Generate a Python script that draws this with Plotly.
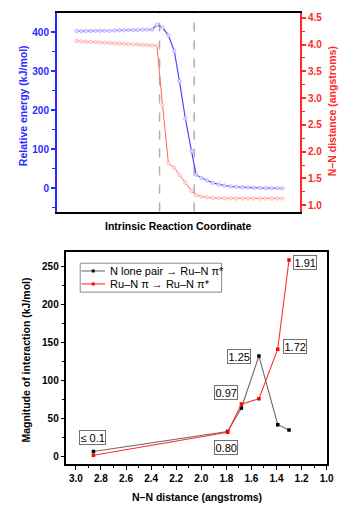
import plotly.graph_objects as go

# ---------------- data: top panel (IRC scan) ----------------
irc = [20, 24.8, 29.6, 34.4, 39.3, 44.1, 48.9, 53.7, 58.5, 63.3, 68.1, 72.9, 77.8, 82.6, 87.4, 92.2, 97,
       102, 107.7, 113.7, 119.7, 125, 131, 137.3, 142,
       147.3, 153, 159, 165, 171, 177, 183, 189, 195, 201, 207, 213, 219, 225, 230]
energy = [403, 403, 403, 403.5, 403.5, 404, 404, 404, 404.5, 405, 405, 405.5, 406, 406, 406.5, 407, 407,
          419, 412, 392, 352, 274, 179, 95, 35,
          27, 20, 14, 10, 7, 5, 3.5, 2.5, 2, 1.5, 1, 0.7, 0.4, 0.2, 0]
nn_dist = [4.065, 4.06, 4.055, 4.05, 4.045, 4.04, 4.035, 4.03, 4.025, 4.02, 4.015, 4.01, 4.005, 4.0, 3.995, 3.99, 3.985,
           3.98, 2.87, 1.78, 1.70, 1.56, 1.42, 1.27, 1.19,
           1.16, 1.145, 1.135, 1.13, 1.13, 1.125, 1.125, 1.125, 1.125, 1.125, 1.125, 1.125, 1.125, 1.125, 1.125]
ts_marks = [104.7, 140]

# ---------------- data: bottom panel (NBO interactions) ----------------
nn_lp = [2.86, 1.79, 1.68, 1.54, 1.39, 1.30]
lp_vals = [7, 33, 64, 132, 42, 35]
nn_pi = [2.86, 1.79, 1.68, 1.54, 1.39, 1.30]
pi_vals = [2, 32, 69, 76, 141, 258]
bond_orders = ["≤ 0.1", "0.80", "0.97", "1.25", "1.72", "1.91"]
series_names = ["N lone pair → Ru–N π*", "Ru–N π → Ru–N π*"]
label_x = [2.87, 1.805, 1.80, 1.70, 1.25, 1.17]
label_y = [25, 12, 84, 131, 145, 254]

FONT = "Liberation Sans"
BLUE = "#2a2aff"
RED = "#ff2a2a"
LP_LINE = "#6a6a6a"
PI_LINE = "#ff3030"

# page has an 8px body margin: figure is 348x500 placed at (8, 8)
W, H, OFF = 348, 500, 8


def px(x):
    return (x - OFF) / W


def py(y):
    return (H + OFF - y) / H


fig = go.Figure()

fig.add_trace(go.Scatter(
    x=irc, y=energy, xaxis="x", yaxis="y", mode="lines+markers",
    line=dict(color="#4848ff", width=1.2),
    marker=dict(symbol="circle", size=3.5, color="rgba(225,225,255,0.9)",
                line=dict(color="#aeaeff", width=0.8)),
    showlegend=False))
fig.add_trace(go.Scatter(
    x=irc, y=nn_dist, xaxis="x", yaxis="y2", mode="lines+markers",
    line=dict(color="#ff6464", width=1.0),
    marker=dict(symbol="circle", size=3.5, color="rgba(255,232,232,0.9)",
                line=dict(color="#ffb0b0", width=0.8)),
    showlegend=False))

fig.add_trace(go.Scatter(
    x=nn_lp, y=lp_vals, xaxis="x2", yaxis="y3", mode="lines+markers",
    name=series_names[0],
    line=dict(color=LP_LINE, width=1.1),
    marker=dict(symbol="square", size=3.5, color="black"),
    showlegend=False))
fig.add_trace(go.Scatter(
    x=nn_pi, y=pi_vals, xaxis="x2", yaxis="y3", mode="lines+markers",
    name=series_names[1],
    line=dict(color=PI_LINE, width=1.1),
    marker=dict(symbol="square", size=3.5, color="red"),
    showlegend=False))

shapes = []
for xv in ts_marks:
    shapes.append(dict(type="line", xref="x", yref="y domain", x0=xv, x1=xv, y0=0, y1=1,
                       line=dict(color="#b0b0b0", width=1.5, dash="dash"), layer="below"))

annotations = []
for t, lx, ly in zip(bond_orders, label_x, label_y):
    annotations.append(dict(x=lx, y=ly, xref="x2", yref="y3", text=t, showarrow=False,
                            font=dict(family=FONT, size=11, color="black"),
                            bgcolor="white", bordercolor="#707070", borderwidth=1, borderpad=0.5))

# compact legend box (drawn in page pixels)
shapes.append(dict(type="rect", xref="paper", yref="paper",
                   x0=px(81.7), x1=px(226), y0=py(291.7), y1=py(262.7),
                   line=dict(color="#8a8a8a", width=1), fillcolor="white", layer="above"))
for name, lc, mc, yy in [(series_names[0], LP_LINE, "black", 270.5),
                         (series_names[1], PI_LINE, "red", 283.5)]:
    shapes.append(dict(type="line", xref="paper", yref="paper",
                       x0=px(83), x1=px(107), y0=py(yy), y1=py(yy),
                       line=dict(color=lc, width=1.1), layer="above"))
    shapes.append(dict(type="rect", xref="paper", yref="paper",
                       x0=px(93.5), x1=px(96.5), y0=py(yy + 1.5), y1=py(yy - 1.5),
                       line=dict(color=mc, width=0), fillcolor=mc, layer="above"))
    annotations.append(dict(x=px(110), y=py(yy), xref="paper", yref="paper", text=name,
                            showarrow=False, xanchor="left", yanchor="middle",
                            font=dict(family=FONT, size=11, color="black")))


def title_ann(text, x, y, color, angle=0):
    return dict(x=px(x), y=py(y), xref="paper", yref="paper", text=text, showarrow=False,
                textangle=angle, xanchor="center", yanchor="middle",
                font=dict(family=FONT, size=10.5, color=color, weight="bold"))


annotations += [
    title_ann("Relative energy (kJ/mol)", 23, 104.7, BLUE, -90),
    title_ann("N–N distance (angstroms)", 338, 110, RED, -90),
    title_ann("Intrinsic Reaction Coordinate", 181.7, 225.7, "black"),
    title_ann("Magnitude of interaction (kJ/mol)", 26.7, 360, "black", -90),
    title_ann("N–N distance (angstroms)", 200.8, 496.7, "black"),
]


def tickfont(c):
    return dict(family=FONT, size=10, color=c, weight="bold")


fig.update_layout(
    width=W, height=H, autosize=False,
    margin=dict(l=0, r=0, t=0, b=0),
    paper_bgcolor="white", plot_bgcolor="white",
    font=dict(family=FONT),
    showlegend=False,
    xaxis=dict(domain=[px(58), px(306)], anchor="y", range=[0, 248],
               showticklabels=False, ticks="", showgrid=False, zeroline=False,
               showline=True, linecolor="black", linewidth=1.5, mirror=True),
    yaxis=dict(domain=[py(211), py(12)], anchor="x", range=[-59.6, 449.4],
               tick0=0, dtick=100, ticks="outside", ticklen=4, tickwidth=1.5, tickcolor=BLUE,
               minor=dict(dtick=50, ticks="outside", ticklen=2.5, tickwidth=1.2, tickcolor=BLUE, showgrid=False),
               showgrid=False, zeroline=False, showline=True, linecolor=BLUE, linewidth=2,
               tickfont=tickfont(BLUE)),
    yaxis2=dict(overlaying="y", side="right", anchor="x", range=[0.88, 4.59],
                tick0=1.0, dtick=0.5, tickformat=".1f", ticks="outside", ticklen=4, tickwidth=1.5, tickcolor=RED,
                minor=dict(dtick=0.25, ticks="outside", ticklen=2.5, tickwidth=1.2, tickcolor=RED, showgrid=False),
                showgrid=False, zeroline=False, showline=True, linecolor=RED, linewidth=2,
                tickfont=tickfont(RED)),
    xaxis2=dict(domain=[px(67.7), px(333.3)], anchor="y3", range=[3.075, 0.999],
                tick0=0, dtick=0.2, tickformat=".1f", ticks="outside", ticklen=4, tickwidth=1.2, tickcolor="black",
                minor=dict(dtick=0.1, ticks="outside", ticklen=2.5, tickwidth=1, tickcolor="black", showgrid=False),
                showgrid=False, zeroline=False, showline=True, linecolor="black", linewidth=1.5, mirror=True,
                tickfont=tickfont("black")),
    yaxis3=dict(domain=[py(464), py(251)], anchor="x2", range=[-9.6, 269],
                tick0=0, dtick=50, ticks="outside", ticklen=4, tickwidth=1.2, tickcolor="black",
                minor=dict(dtick=25, ticks="outside", ticklen=2.5, tickwidth=1, tickcolor="black", showgrid=False),
                showgrid=False, zeroline=False, showline=True, linecolor="black", linewidth=1.5, mirror=True,
                tickfont=tickfont("black")),
    shapes=shapes,
    annotations=annotations,
)

fig.write_html("out.html")
